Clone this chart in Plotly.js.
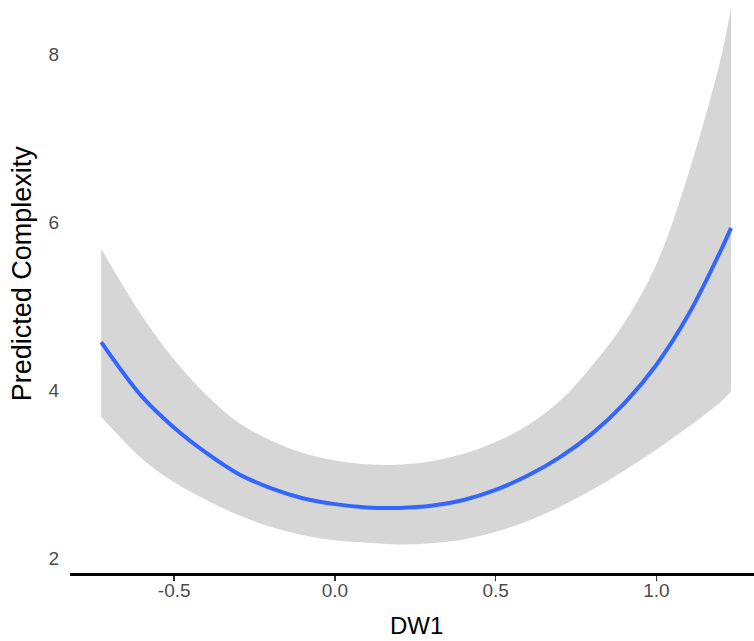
<!DOCTYPE html>
<html>
<head>
<meta charset="utf-8">
<script src="https://cdn.plot.ly/plotly-3.0.1.min.js"></script>
<style>html,body{margin:0;padding:0;background:#fff;}#chart{width:754px;height:641px;}</style>
</head>
<body>
<div id="chart"></div>
<script>
const dw1 = [-0.727, -0.6, -0.5, -0.4, -0.3, -0.2, -0.1, 0.0, 0.1, 0.2, 0.3, 0.4, 0.5, 0.6, 0.7, 0.8, 0.9, 1.0, 1.1, 1.2, 1.232];
const predicted = [4.57, 3.92, 3.55, 3.25, 3.00, 2.83, 2.71, 2.64, 2.60, 2.595, 2.62, 2.69, 2.81, 2.98, 3.20, 3.48, 3.84, 4.30, 4.90, 5.66, 5.93];
const upperCI = [5.68, 4.88, 4.36, 3.94, 3.61, 3.40, 3.25, 3.16, 3.115, 3.11, 3.15, 3.24, 3.38, 3.58, 3.87, 4.29, 4.80, 5.50, 6.58, 7.95, 8.56];
const lowerCI = [3.68, 3.18, 2.90, 2.69, 2.51, 2.37, 2.27, 2.21, 2.18, 2.16, 2.175, 2.22, 2.31, 2.44, 2.61, 2.81, 3.04, 3.29, 3.56, 3.86, 3.98];
const xTickVals = [-0.5, 0.0, 0.5, 1.0];
const xTickText = ["-0.5", "0.0", "0.5", "1.0"];
const yTickVals = [2, 4, 6, 8];
const yTickText = ["2", "4", "6", "8"];

const font = "Liberation Sans, Arial, Helvetica, sans-serif";

const traces = [
  {x: dw1, y: lowerCI, type: "scatter", mode: "lines", line: {width: 0, shape: "spline", smoothing: 1}, hoverinfo: "skip", showlegend: false},
  {x: dw1, y: upperCI, type: "scatter", mode: "lines", fill: "tonexty", fillcolor: "rgba(153,153,153,0.4)", line: {width: 0, shape: "spline", smoothing: 1}, hoverinfo: "skip", showlegend: false},
  {x: dw1, y: predicted, type: "scatter", mode: "lines", line: {color: "#3366FF", width: 4, shape: "spline", smoothing: 1}, showlegend: false}
];

const layout = {
  width: 754, height: 641,
  margin: {l: 70, r: 0, t: 0, b: 68},
  paper_bgcolor: "#fff", plot_bgcolor: "#fff",
  font: {family: font},
  xaxis: {
    range: [-0.824, 1.3033], tickvals: xTickVals, ticktext: xTickText,
    showgrid: false, zeroline: false, showline: true, linecolor: "#000", linewidth: 3,
    ticks: "outside", ticklen: 5, tickwidth: 1.5, tickcolor: "#333",
    ticklabelstandoff: -7,
    tickfont: {family: font, size: 19, color: "#4D4D4D"}
  },
  yaxis: {
    range: [1.82, 8.643], tickvals: yTickVals, ticktext: yTickText,
    showgrid: false, zeroline: false, showline: false,
    ticks: "outside", ticklen: 6, tickcolor: "rgba(0,0,0,0)",
    tickfont: {family: font, size: 19, color: "#4D4D4D"}
  },
  annotations: [
    {text: "DW1", xref: "paper", yref: "paper", x: 0.507, y: -0.092, xanchor: "center", yanchor: "middle", showarrow: false, font: {family: font, size: 24, color: "#000"}},
    {text: "Predicted Complexity", xref: "paper", yref: "paper", x: -0.0702, y: 0.523, xanchor: "center", yanchor: "middle", textangle: -90, showarrow: false, font: {family: font, size: 27, color: "#000"}}
  ]
};

Plotly.newPlot("chart", traces, layout, {displayModeBar: false, staticPlot: true});
</script>
</body>
</html>
